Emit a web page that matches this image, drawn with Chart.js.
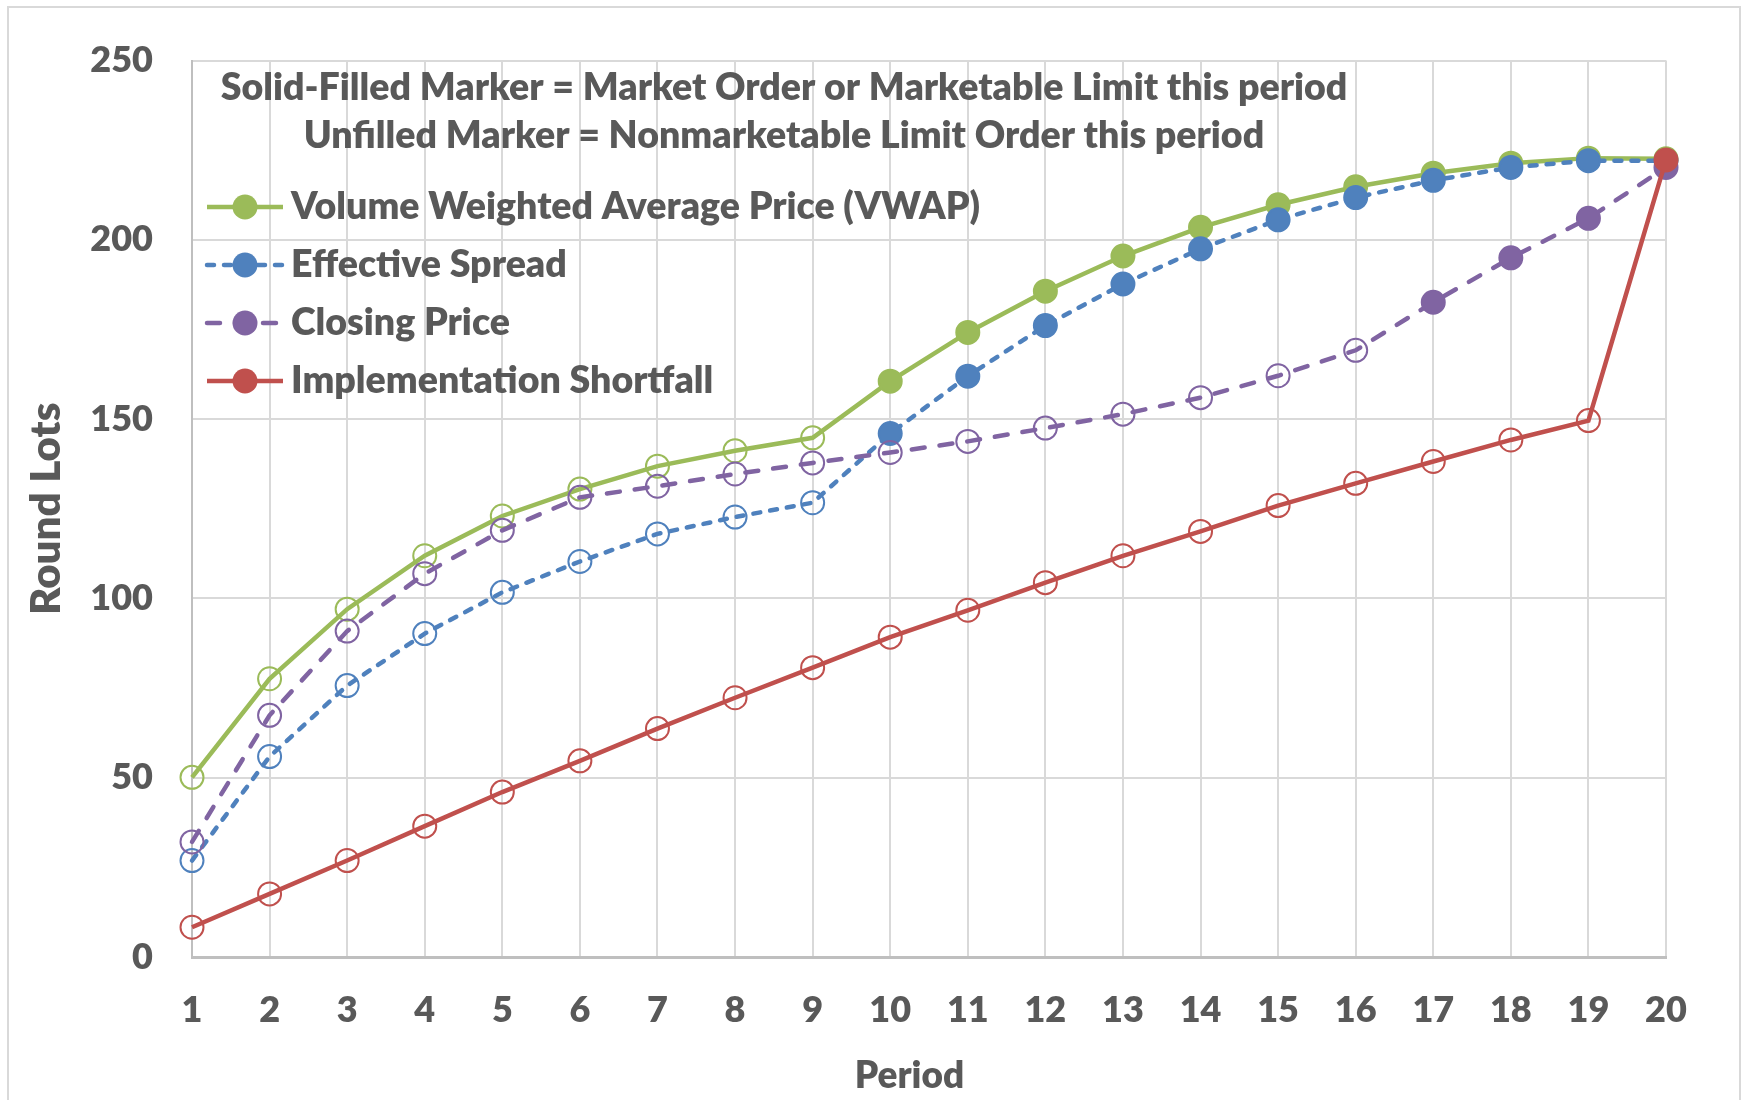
<!DOCTYPE html>
<html>
<head>
<meta charset="utf-8">
<title>Round Lots by Period</title>
<script src="https://cdn.jsdelivr.net/npm/chart.js@4.4.1/dist/chart.umd.min.js"></script>
<style>
  html, body { margin: 0; padding: 0; background: #ffffff; }
  #wrap { width: 1741px; height: 1100px; }
</style>
</head>
<body>
<div id="wrap"><canvas id="chart" width="1741" height="1100"></canvas></div>
<script>
// Periods on the x axis
const periods = ['1','2','3','4','5','6','7','8','9','10','11','12','13','14','15','16','17','18','19','20'];

// Cumulative round lots per benchmark
const vwap      = [50.1, 77.6, 97.0, 111.9, 123.0, 130.5, 136.9, 141.2, 144.8, 160.6, 174.2, 185.7, 195.5, 203.5, 209.8, 214.8, 218.6, 221.4, 222.8, 222.6];
const effSpread = [26.9, 55.9, 75.7, 90.2, 101.7, 110.3, 118.0, 122.7, 126.7, 146.0, 162.0, 176.1, 187.7, 197.5, 205.6, 211.8, 216.6, 220.2, 222.1, 222.1];
const closing   = [32.1, 67.4, 90.9, 106.9, 119.0, 128.2, 131.3, 134.7, 137.8, 140.7, 143.8, 147.5, 151.4, 156.0, 162.1, 169.2, 182.6, 195.0, 206.0, 220.2];
const shortfall = [8.3, 17.6, 26.9, 36.5, 46.0, 54.7, 63.7, 72.3, 80.7, 89.2, 96.7, 104.4, 111.9, 118.7, 125.9, 132.1, 138.2, 144.2, 149.6, 222.3];

// 1 = market order / marketable limit (solid marker), 0 = nonmarketable limit (open marker)
const vwapFilled      = [0,0,0,0,0,0,0,0,0,1,1,1,1,1,1,1,1,1,1,1];
const effSpreadFilled = [0,0,0,0,0,0,0,0,0,1,1,1,1,1,1,1,1,1,1,1];
const closingFilled   = [0,0,0,0,0,0,0,0,0,0,0,0,0,0,0,0,1,1,1,1];
const shortfallFilled = [0,0,0,0,0,0,0,0,0,0,0,0,0,0,0,0,0,0,0,1];

// Y axis range
const yMin = 0, yMax = 250, yStep = 50;

const noteLines = [
  'Solid-Filled Marker = Market Order or Marketable Limit this period',
  'Unfilled Marker = Nonmarketable Limit Order this period'
];
const xTitle = 'Period';
const yTitle = 'Round Lots';

const TEXT = '#595959';
const GRID = '#d9d9d9';
const AXIS = '#bfbfbf';
const FONT = 'Lato';
const WEIGHT = 800;

function series(label, values, filled, color, dash, order) {
  return {
    label,
    data: values,
    borderColor: color,
    borderWidth: 4.5,
    borderDash: dash,
    borderCapStyle: dash.length ? 'round' : 'butt',
    tension: 0,
    fill: false,
    order,
    pointRadius: 11.5,
    pointHoverRadius: 11.5,
    pointBorderWidth: 2,
    pointBorderColor: color,
    pointBackgroundColor: filled.map(f => f ? color : 'rgba(0,0,0,0)')
  };
}

// Frame, note text, legend and x title
const decorations = {
  id: 'decorations',
  beforeDraw(chart) {
    const ctx = chart.ctx;
    ctx.save();
    ctx.fillStyle = '#ffffff';
    ctx.fillRect(0, 0, chart.width, chart.height);
    ctx.strokeStyle = GRID;
    ctx.lineWidth = 2;
    ctx.strokeRect(8, 7, chart.width - 9, chart.height + 10);
    ctx.restore();
  },
  afterDraw(chart) {
    const ctx = chart.ctx;
    ctx.save();
    ctx.fillStyle = TEXT;
    ctx.textBaseline = 'alphabetic';

    ctx.font = `${WEIGHT} 37.5px ${FONT}`;
    ctx.textAlign = 'center';
    ctx.fillText(noteLines[0], 784, 100);
    ctx.fillText(noteLines[1], 784, 148);

    ctx.font = `${WEIGHT} 37.5px ${FONT}`;
    chart.data.datasets.forEach((ds, i) => {
      const y = 207 + i * 58;
      ctx.strokeStyle = ds.borderColor;
      ctx.lineWidth = 4.5;
      ctx.lineCap = ds.borderCapStyle;
      ctx.setLineDash(ds.borderDash);
      ctx.beginPath();
      ctx.moveTo(207, y);
      ctx.lineTo(283, y);
      ctx.stroke();
      ctx.setLineDash([]);
      ctx.beginPath();
      ctx.arc(245, y, 12.5, 0, Math.PI * 2);
      ctx.fillStyle = ds.borderColor;
      ctx.fill();
      ctx.fillStyle = TEXT;
      ctx.textAlign = 'left';
      ctx.fillText(ds.label, 291, y + 11.5);
    });

    ctx.font = `${WEIGHT} 37px ${FONT}`;
    ctx.textAlign = 'center';
    ctx.fillText(xTitle, 909.5, 1088);
    ctx.restore();
  }
};

Chart.defaults.font.family = FONT;

new Chart(document.getElementById('chart'), {
  type: 'line',
  data: {
    labels: periods,
    datasets: [
      series('Volume Weighted Average Price (VWAP)', vwap, vwapFilled, '#9bbb59', [], 4),
      series('Effective Spread', effSpread, effSpreadFilled, '#4f81bd', [7, 10], 3),
      series('Closing Price', closing, closingFilled, '#8064a2', [13, 15], 2),
      series('Implementation Shortfall', shortfall, shortfallFilled, '#c0504d', [], 1)
    ]
  },
  options: {
    responsive: false,
    animation: false,
    events: [],
    devicePixelRatio: 1,
    layout: { padding: { left: 0, top: 60, right: 75, bottom: 0 } },
    plugins: {
      legend: { display: false },
      title: { display: false },
      tooltip: { enabled: false }
    },
    scales: {
      x: {
        type: 'category',
        offset: false,
        afterFit(scale) { scale.height = 143; },
        grid: { color: GRID, lineWidth: 2, drawTicks: false, offset: false },
        border: { color: AXIS, width: 3 },
        ticks: {
          color: TEXT,
          font: { size: 36, weight: WEIGHT },
          padding: 32,
          maxRotation: 0,
          autoSkip: false
        }
      },
      y: {
        min: yMin,
        max: yMax,
        afterFit(scale) { scale.width = 192; },
        grid: { color: GRID, lineWidth: 2, drawTicks: false },
        border: { color: AXIS, width: 2 },
        ticks: {
          stepSize: yStep,
          color: TEXT,
          font: { size: 36, weight: WEIGHT },
          padding: 39
        },
        title: {
          display: true,
          text: yTitle,
          color: TEXT,
          font: { size: 42, weight: WEIGHT },
          padding: { top: 21, bottom: 0 }
        }
      }
    }
  },
  plugins: [decorations]
});
</script>
</body>
</html>
